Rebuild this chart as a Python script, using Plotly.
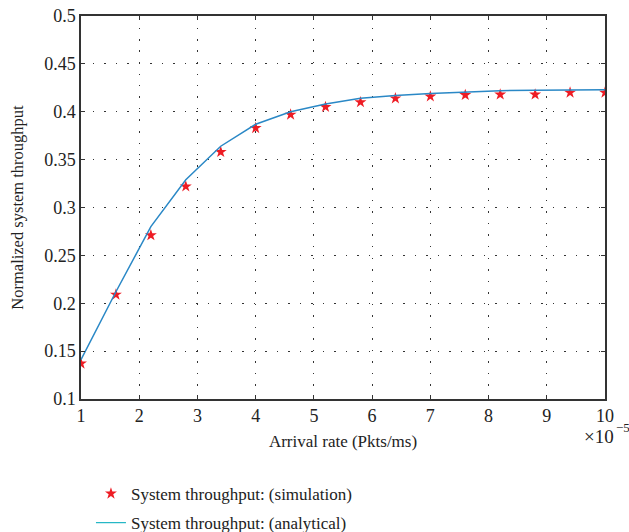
import plotly.graph_objects as go

arrival_rate = [1.0, 1.6, 2.2, 2.8, 3.4, 4.0, 4.6, 5.2, 5.8, 6.4, 7.0, 7.6, 8.2, 8.8, 9.4, 10.0]
sim_throughput = [0.137, 0.209, 0.271, 0.322, 0.358, 0.383, 0.397, 0.405, 0.410, 0.414, 0.416,
                  0.4175, 0.418, 0.418, 0.420, 0.420]
ana_throughput = [0.141, 0.212, 0.280, 0.329, 0.364, 0.387, 0.400, 0.408, 0.414, 0.417, 0.419,
                  0.4205, 0.422, 0.4225, 0.4227, 0.423]
x_ticks = [1, 2, 3, 4, 5, 6, 7, 8, 9, 10]
y_ticks = [0.1, 0.15, 0.2, 0.25, 0.3, 0.35, 0.4, 0.45, 0.5]
y_tick_labels = ["0.1", "0.15", "0.2", "0.25", "0.3", "0.35", "0.4", "0.45", "0.5"]

FONT = "Liberation Serif"
TXT = "#222222"

fig = go.Figure()
fig.add_trace(go.Scatter(
    x=arrival_rate, y=sim_throughput, mode="markers",
    name="System throughput: (simulation)", legendgroup="a",
    marker=dict(symbol="star", size=9, color="#ee1c24", line=dict(width=0))))
fig.add_trace(go.Scatter(
    x=arrival_rate, y=ana_throughput, mode="lines",
    name="System throughput: (analytical)", legendgroup="b", showlegend=False,
    line=dict(color="#2a88c6", width=1.5)))
fig.add_trace(go.Scatter(
    x=[None], y=[None], mode="lines",
    name="System throughput: (analytical)", legendgroup="b",
    line=dict(color="#1fb5c4", width=1.2)))

axis_common = dict(
    showline=True, linecolor="#333333", linewidth=1.5, mirror="ticks",
    ticks="inside", ticklen=4, tickcolor="#333333",
    showgrid=True, gridcolor="#333333", gridwidth=1, griddash="1.5px,10px",
    zeroline=False, automargin=False,
    tickfont=dict(family=FONT, size=18, color=TXT))

fig.update_xaxes(range=[1, 10], tickvals=x_ticks,
                 title=dict(text="Arrival rate (Pkts/ms)", font=dict(family=FONT, size=17, color=TXT),
                            standoff=10),
                 **axis_common)
fig.update_yaxes(range=[0.1, 0.5], tickvals=y_ticks, ticktext=y_tick_labels,
                 title=dict(text="Normalized system throughput", font=dict(family=FONT, size=16.5, color=TXT),
                            standoff=16),
                 **axis_common)

fig.add_annotation(xref="paper", yref="paper", x=1.019, y=-0.099, xanchor="right", yanchor="middle",
                   text="×10", showarrow=False, borderpad=0,
                   font=dict(family=FONT, size=19, color=TXT))
fig.add_annotation(xref="paper", yref="paper", x=1.019, y=-0.0757, xanchor="left", yanchor="middle",
                   text="−5", showarrow=False, borderpad=0,
                   font=dict(family=FONT, size=13, color=TXT))

fig.update_layout(
    width=629, height=532,
    margin=dict(l=81, r=24, t=16, b=133, autoexpand=False),
    paper_bgcolor="white", plot_bgcolor="white",
    showlegend=True,
    legend=dict(x=0.019, y=-0.201, xanchor="left", yanchor="top",
                traceorder="grouped", tracegroupgap=4,
                font=dict(family=FONT, size=17, color=TXT),
                bgcolor="rgba(0,0,0,0)"),
    font=dict(family=FONT))

fig.write_html("out.html", config={"displayModeBar": False},
               post_script="document.body.style.margin='0';")
